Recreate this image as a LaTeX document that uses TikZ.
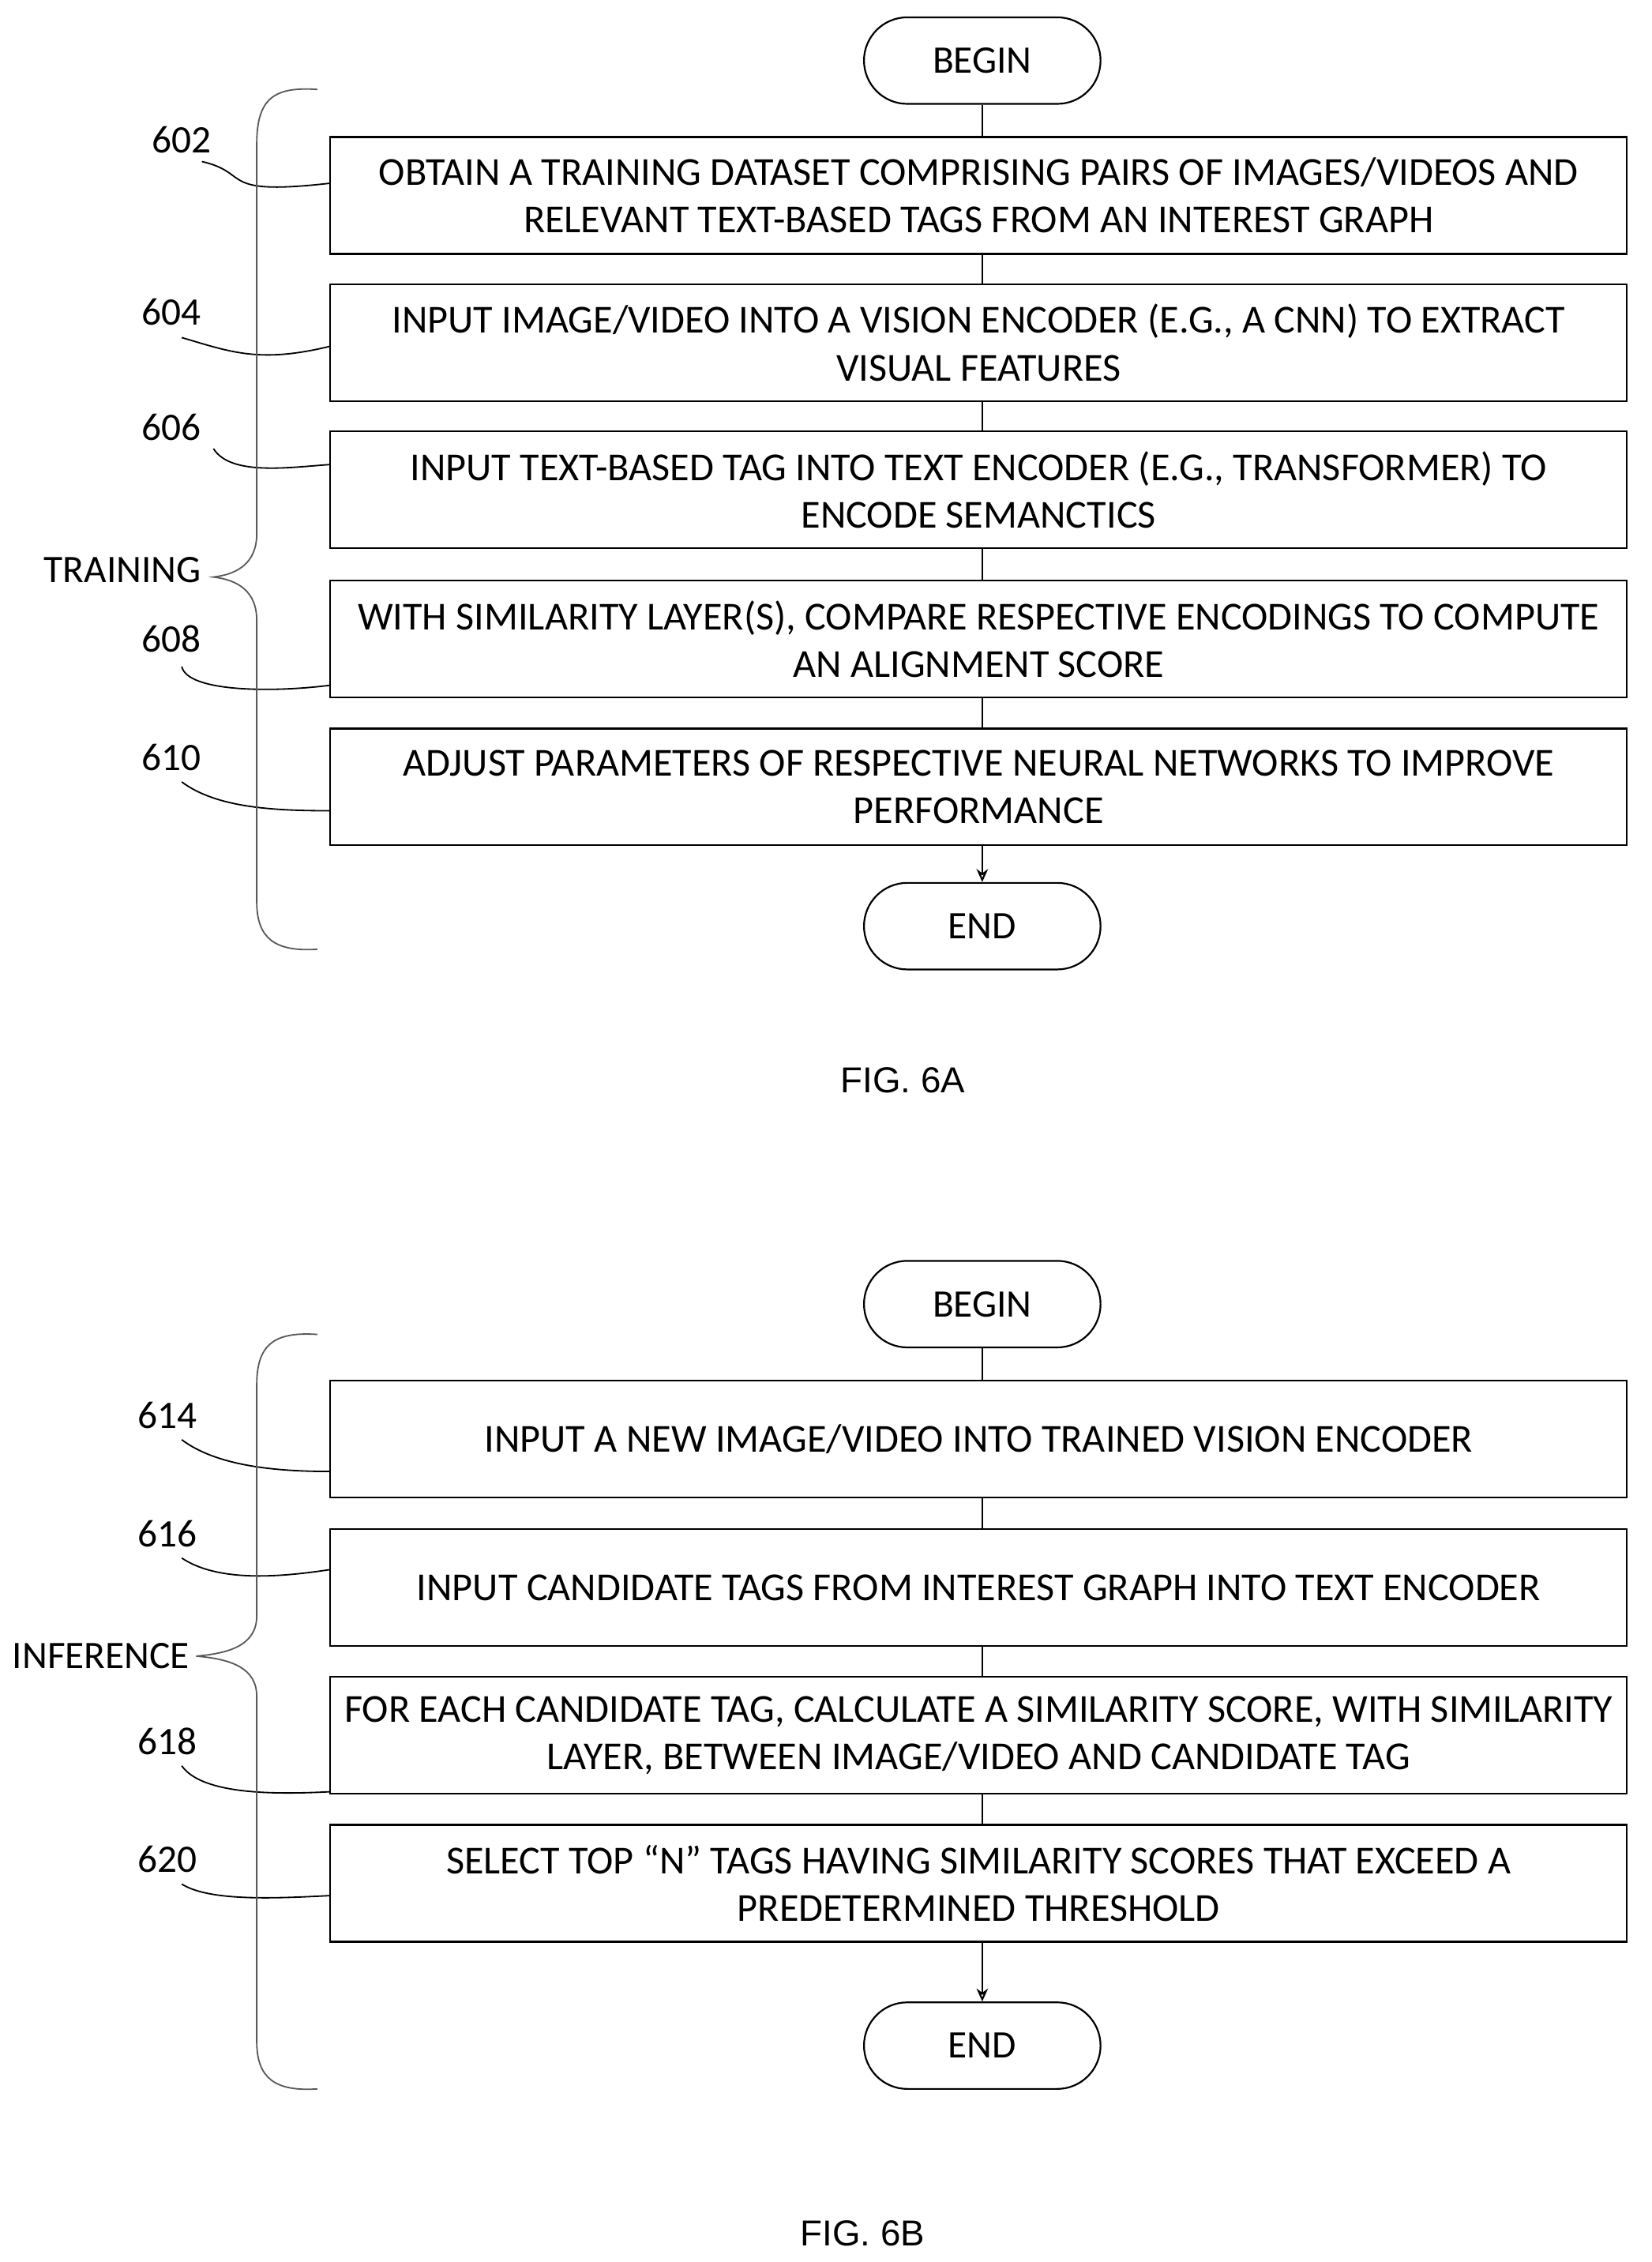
\documentclass[tikz,border=0pt]{standalone}
\usepackage{fontspec}
\setmainfont{Carlito}
\newfontfamily\capfont{Liberation Sans}
\usetikzlibrary{arrows.meta}
\begin{document}
\begin{tikzpicture}[x=1pt,y=-1pt,
  box/.style={draw,line width=1.2pt,minimum width=899pt,minimum height=81pt,align=center,font=\fontsize{27.5}{33}\selectfont,inner sep=0pt},
  term/.style={draw,line width=1.2pt,rounded corners=30pt,minimum width=164pt,minimum height=60pt,font=\fontsize{27}{30}\selectfont},
  lab/.style={font=\fontsize{27}{30}\selectfont},
  conn/.style={line width=1.2pt},
  lead/.style={line width=1pt},
  brace/.style={line width=1pt,gray!70!black}]
\useasboundingbox (0,0) rectangle (1145,1568);
% ---------- 6A
\node[term] (b1) at (681,42) {BEGIN};
\node[box] (n602) at (678.5,135.5) {OBTAIN A TRAINING DATASET COMPRISING PAIRS OF IMAGES/VIDEOS AND\\RELEVANT TEXT-BASED TAGS FROM AN INTEREST GRAPH};
\node[box] (n604) at (678.5,237.5) {INPUT IMAGE/VIDEO INTO A VISION ENCODER (E.G., A CNN) TO EXTRACT\\VISUAL FEATURES};
\node[box] (n606) at (678.5,339.5) {INPUT TEXT-BASED TAG INTO TEXT ENCODER (E.G., TRANSFORMER) TO\\ENCODE SEMANCTICS};
\node[box] (n608) at (678.5,443) {WITH SIMILARITY LAYER(S), COMPARE RESPECTIVE ENCODINGS TO COMPUTE\\AN ALIGNMENT SCORE};
\node[box] (n610) at (678.5,545.5) {ADJUST PARAMETERS OF RESPECTIVE NEURAL NETWORKS TO IMPROVE\\PERFORMANCE};
\node[term] (e1) at (681,642) {END};
\draw[conn] (b1) -- (b1|-n602.north);
\draw[conn] (b1|-n602.south) -- (b1|-n604.north);
\draw[conn] (b1|-n604.south) -- (b1|-n606.north);
\draw[conn] (b1|-n606.south) -- (b1|-n608.north);
\draw[conn] (b1|-n608.south) -- (b1|-n610.north);
\draw[conn,-{Stealth[length=9pt,width=8pt,open]}] (b1|-n610.south) -- (e1);
\node[lab] (l602) at (126,97) {602};
\node[lab] (l604) at (119,216) {604};
\node[lab] (l606) at (119,296) {606};
\node[lab] (l608) at (119,443) {608};
\node[lab] (l610) at (119,525) {610};
\coordinate (c602) at (229,127); \coordinate (c604) at (229,240);
\coordinate (c606) at (229,322); \coordinate (c608) at (229,475);
\coordinate (c610) at (229,562);
\draw[lead] (140,112) .. controls (175,120) and (150,136) .. (c602);
\draw[lead] (126,234) .. controls (160,244) and (180,252) .. (c604);
\draw[lead] (148,311) .. controls (160,330) and (200,324) .. (c606);
\draw[lead] (126,462) .. controls (130,480) and (190,480) .. (c608);
\draw[lead] (126,542) .. controls (150,560) and (190,562) .. (c610);
\node[lab] (t1) at (85,395) {TRAINING};
\draw[brace] (220,62) .. controls (190,60) and (178,68) .. (178,100) -- (178,370) .. controls (178,390) and (165,398) .. (148,400) .. controls (165,402) and (178,410) .. (178,430) -- (178,625) .. controls (178,650) and (190,660) .. (220,658);
\node[font=\capfont\fontsize{25}{28}\selectfont] (f1) at (626,749) {FIG. 6A};
% ---------- 6B
\node[term] (b2) at (681,904) {BEGIN};
\node[box] (n614) at (678.5,997.5) {INPUT A NEW IMAGE/VIDEO INTO TRAINED VISION ENCODER};
\node[box] (n616) at (678.5,1100.5) {INPUT CANDIDATE TAGS FROM INTEREST GRAPH INTO TEXT ENCODER};
\node[box] (n618) at (678.5,1203) {FOR EACH CANDIDATE TAG, CALCULATE A SIMILARITY SCORE, WITH SIMILARITY\\LAYER, BETWEEN IMAGE/VIDEO AND CANDIDATE TAG};
\node[box] (n620) at (678.5,1305.5) {SELECT TOP “N” TAGS HAVING SIMILARITY SCORES THAT EXCEED A\\PREDETERMINED THRESHOLD};
\node[term] (e2) at (681,1418) {END};
\draw[conn] (b2) -- (b2|-n614.north);
\draw[conn] (b2|-n614.south) -- (b2|-n616.north);
\draw[conn] (b2|-n616.south) -- (b2|-n618.north);
\draw[conn] (b2|-n618.south) -- (b2|-n620.north);
\draw[conn,-{Stealth[length=9pt,width=8pt,open]}] (b2|-n620.south) -- (e2);
\node[lab] (l614) at (116,981) {614};
\node[lab] (l616) at (116,1063) {616};
\node[lab] (l618) at (116,1207) {618};
\node[lab] (l620) at (116,1289) {620};
\coordinate (c614) at (229,1020); \coordinate (c616) at (229,1088);
\coordinate (c618) at (229,1242); \coordinate (c620) at (229,1314);
\draw[lead] (126,998) .. controls (150,1016) and (190,1020) .. (c614);
\draw[lead] (126,1080) .. controls (150,1096) and (190,1094) .. (c616);
\draw[lead] (126,1224) .. controls (140,1244) and (190,1244) .. (c618);
\draw[lead] (126,1306) .. controls (145,1318) and (190,1316) .. (c620);
\node[lab] (t2) at (70,1148) {INFERENCE};
\draw[brace] (220,925) .. controls (190,923) and (178,932) .. (178,960) -- (178,1120) .. controls (178,1140) and (160,1146) .. (136,1148) .. controls (160,1150) and (178,1156) .. (178,1176) -- (178,1415) .. controls (178,1440) and (190,1450) .. (220,1448);
\node[font=\capfont\fontsize{25}{28}\selectfont] (f2) at (598,1548) {FIG. 6B};
\end{tikzpicture}
\end{document}
